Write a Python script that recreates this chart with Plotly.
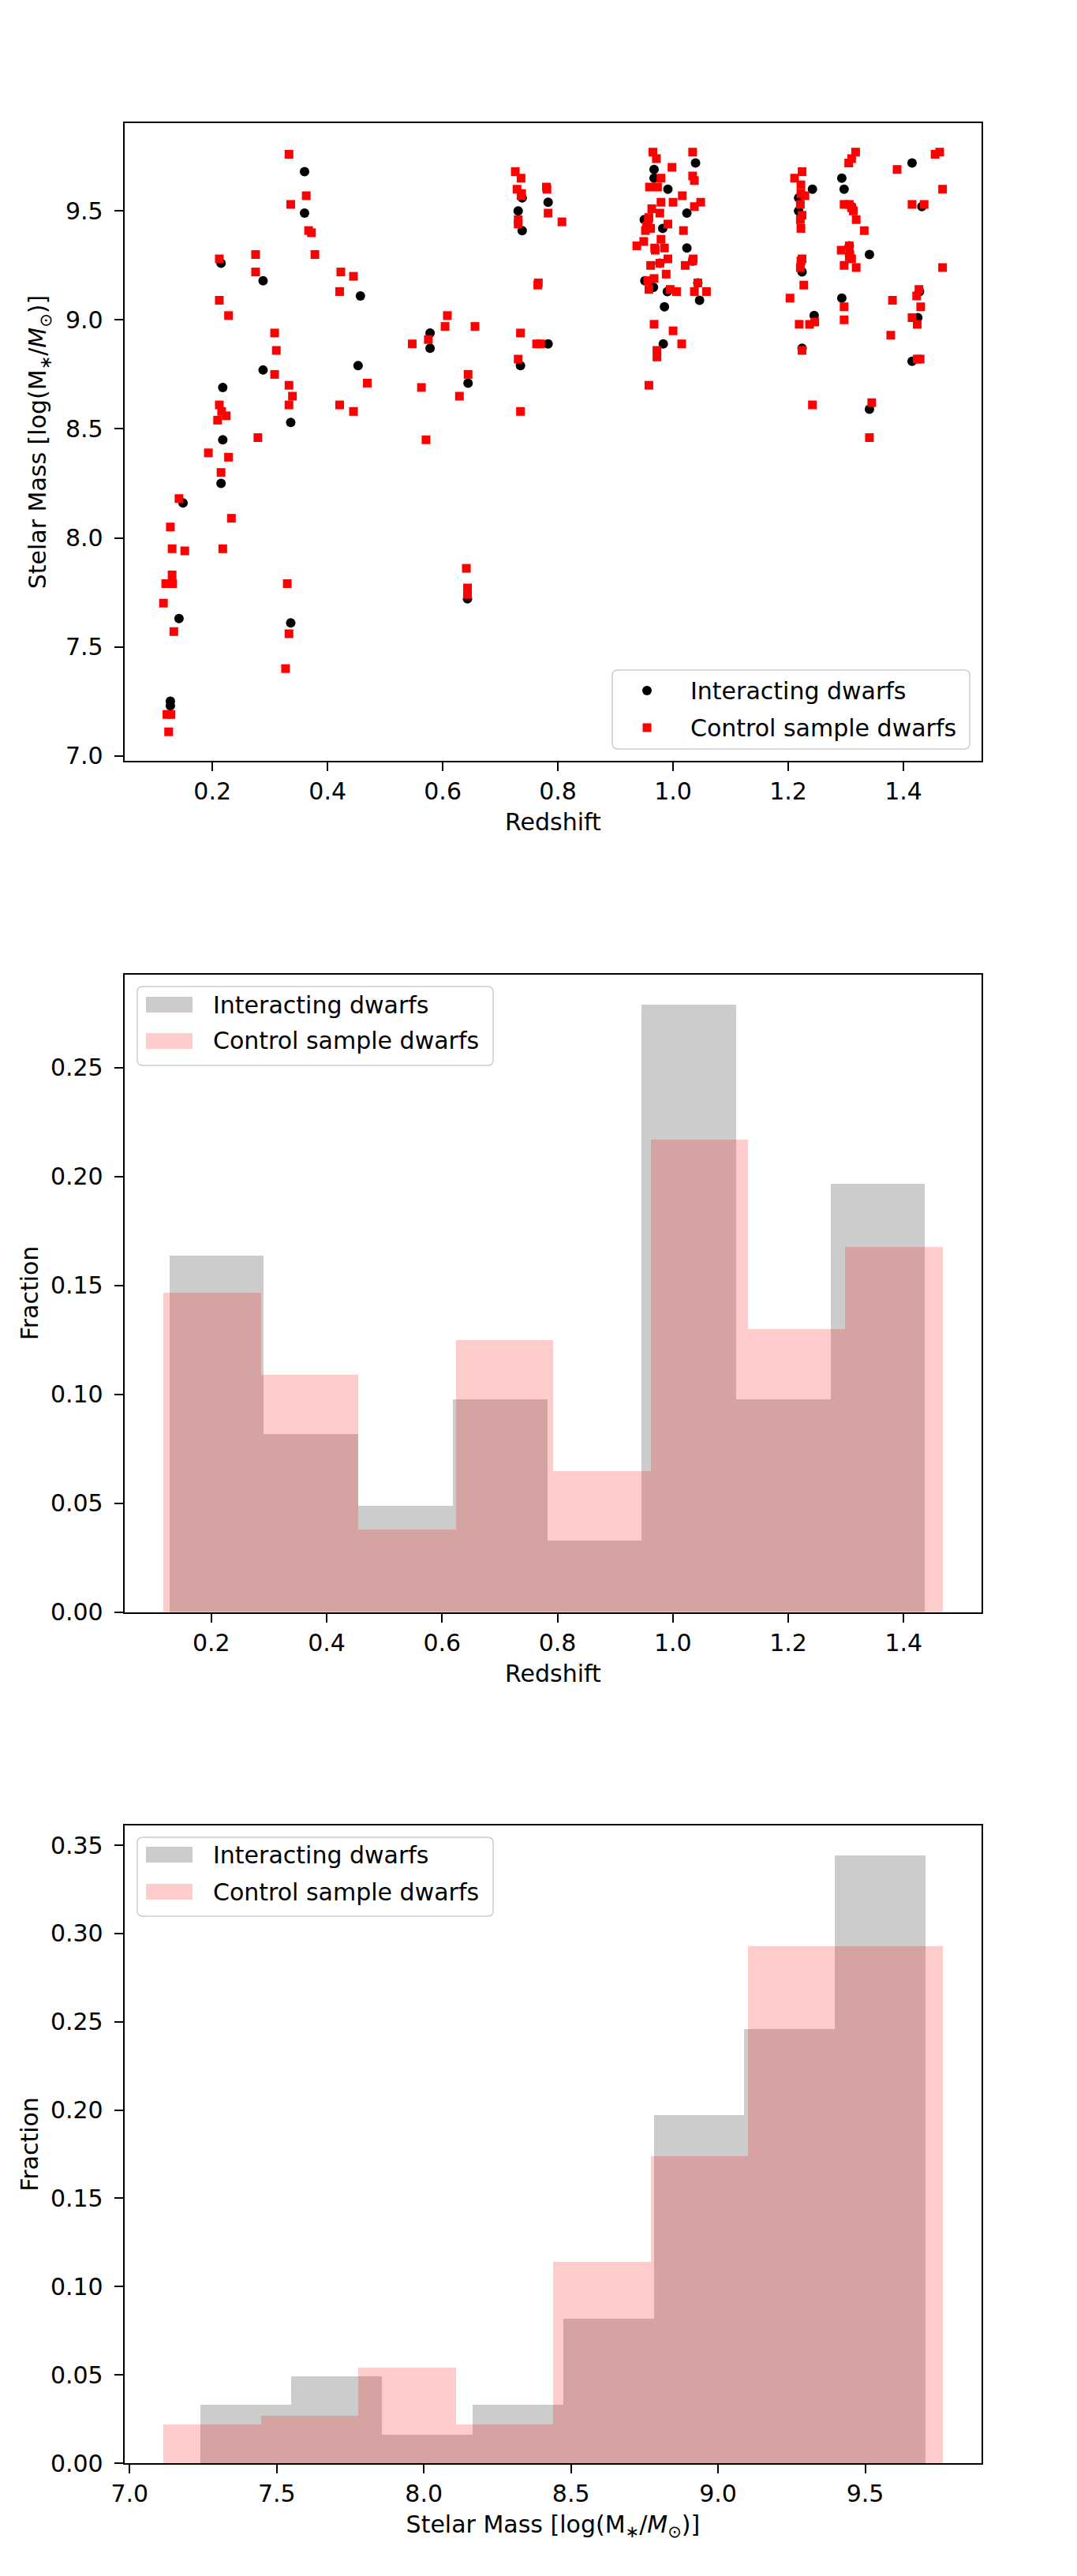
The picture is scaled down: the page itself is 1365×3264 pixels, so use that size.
import numpy as np
import plotly.graph_objects as go

W, H = 1365, 3264
OFF = 8  # browser default body margin (px) compensated in positioning

# ---------------- data: scatter (redshift, stellar mass) ----------------
int_z = [0.360, 0.360, 0.215, 0.288, 0.457, 0.578, 0.578, 0.453, 0.288, 0.218,
         0.336, 0.218, 0.215, 0.149, 0.142, 0.336, 0.127, 0.127,
         0.643, 0.644, 0.738, 0.731, 0.738, 0.783, 0.783, 0.735,
         0.967, 0.967, 1.039, 0.991, 1.024, 0.950, 0.982, 1.024, 0.951, 0.966,
         0.990, 0.985, 1.046, 0.983, 1.034, 0.977, 1.043,
         1.218, 1.218, 1.242, 1.224, 1.245, 1.224,
         1.293, 1.297, 1.341, 1.293, 1.341, 1.306, 1.310,
         1.415, 1.432, 1.425, 1.415, 1.428]
int_mass = [9.68, 9.49, 9.26, 9.18, 9.11, 8.94, 8.87, 8.79, 8.77, 8.69,
            8.53, 8.45, 8.25, 8.16, 7.63, 7.61, 7.25, 7.23,
            7.72, 8.71, 9.56, 9.50, 9.41, 9.54, 8.89, 8.79,
            9.69, 9.65, 9.72, 9.60, 9.49, 9.46, 9.42, 9.33, 9.18, 9.15,
            9.13, 9.06, 9.09, 8.89, 9.27, 9.26, 9.17,
            9.56, 9.50, 9.60, 9.22, 9.02, 8.87,
            9.65, 9.60, 9.30, 9.10, 8.59, 9.34, 9.52,
            9.72, 9.52, 9.01, 8.81, 9.13]

ctl_z = [0.333, 0.363, 0.336, 0.367, 0.372, 0.378, 0.212, 0.275, 0.275, 0.423,
         0.445, 0.421, 0.212, 0.228, 0.608, 0.604, 0.308, 0.311, 0.547, 0.575,
         0.308, 0.333, 0.339, 0.333, 0.469, 0.563, 0.421, 0.445, 0.212, 0.216,
         0.224, 0.209, 0.279, 0.571, 0.193, 0.228, 0.215, 0.142, 0.233, 0.127,
         0.130, 0.152, 0.218, 0.130, 0.119, 0.131, 0.115, 0.133, 0.330, 0.333,
         0.327, 0.121, 0.128, 0.124,
         0.726, 0.736, 0.729, 0.736, 0.731, 0.731, 0.780, 0.783, 0.807, 0.765,
         0.656, 0.735, 0.763, 0.770, 0.731, 0.644, 0.629, 0.735, 0.641, 0.643,
         0.643,
         0.965, 0.971, 1.034, 0.998, 0.979, 1.034, 1.037, 0.959, 0.973, 1.016,
         1.048, 0.979, 1.000, 1.037, 0.963, 0.977, 0.957, 0.954, 0.991, 0.961,
         0.952, 1.018, 0.979, 0.949, 0.937, 0.968, 0.985, 0.991, 0.977, 0.961,
         1.034, 1.021, 0.988, 0.956, 0.967, 0.958, 0.995, 1.006, 1.043, 1.037,
         1.058, 0.967, 1.000, 1.015, 0.972, 0.972, 0.958,
         1.224, 1.211, 1.222, 1.222, 1.229, 1.221, 1.224, 1.221, 1.222, 1.224,
         1.221, 1.227, 1.203, 1.219, 1.237, 1.246, 1.224, 1.242,
         1.317, 1.310, 1.305, 1.297, 1.306, 1.310, 1.313, 1.318, 1.332, 1.306,
         1.292, 1.306, 1.310, 1.297, 1.318, 1.297, 1.297, 1.345, 1.341,
         1.389, 1.455, 1.463, 1.468, 1.415, 1.436, 1.468, 1.427, 1.423, 1.430,
         1.381, 1.415, 1.424, 1.378, 1.424, 1.429,
         0.737, 0.766, 0.781, 0.955, 0.958, 0.969, 1.035, 1.222, 1.307]
ctl_mass = [9.76, 9.57, 9.53, 9.41, 9.40, 9.30, 9.28, 9.30, 9.22, 9.22,
            9.20, 9.13, 9.09, 9.02, 9.02, 8.97, 8.94, 8.86, 8.89, 8.91,
            8.75, 8.70, 8.65, 8.61, 8.71, 8.69, 8.61, 8.58, 8.61, 8.58,
            8.56, 8.54, 8.46, 8.45, 8.39, 8.37, 8.30, 8.18, 8.09, 8.05,
            7.95, 7.94, 7.95, 7.83, 7.79, 7.79, 7.70, 7.57, 7.79, 7.56,
            7.40, 7.19, 7.19, 7.11,
            9.68, 9.65, 9.60, 9.57, 9.46, 9.44, 9.61, 9.49, 9.45, 9.16,
            8.97, 8.94, 8.89, 8.89, 8.82, 8.75, 8.65, 8.58, 7.86, 7.77,
            7.74,
            9.77, 9.74, 9.77, 9.70, 9.65, 9.66, 9.64, 9.61, 9.61, 9.57,
            9.54, 9.54, 9.54, 9.52, 9.51, 9.49, 9.46, 9.43, 9.44, 9.42,
            9.41, 9.41, 9.37, 9.36, 9.34, 9.33, 9.33, 9.28, 9.26, 9.25,
            9.27, 9.25, 9.21, 9.18, 9.19, 9.14, 9.14, 9.13, 9.17, 9.13,
            9.13, 8.98, 8.95, 8.89, 8.86, 8.83, 8.70,
            9.68, 9.65, 9.62, 9.58, 9.57, 9.53, 9.48, 9.46, 9.42, 9.28,
            9.24, 9.16, 9.10, 8.98, 8.98, 8.99, 8.86, 8.61,
            9.77, 9.74, 9.72, 9.53, 9.53, 9.515, 9.50, 9.46, 9.41, 9.34,
            9.32, 9.29, 9.28, 9.25, 9.24, 9.06, 9.00, 8.62, 8.46,
            9.69, 9.76, 9.77, 9.60, 9.53, 9.53, 9.24, 9.14, 9.11, 9.06,
            9.09, 9.01, 8.98, 8.93, 8.82, 8.82,
            9.58, 9.17, 9.60, 9.42, 9.47, 9.32, 9.28, 9.27, 9.30]

# ---------------- data: histograms (fractions per bin) ----------------
z_int_frac = [0.164, 0.082, 0.049, 0.098, 0.033, 0.279, 0.098, 0.197]
z_int_start, z_int_width = 0.127, 0.1637
z_ctl_frac = [0.147, 0.109, 0.038, 0.125, 0.065, 0.217, 0.130, 0.168]
z_ctl_start, z_ctl_width = 0.117, 0.1688

m_int_frac = [0.033, 0.049, 0.016, 0.033, 0.082, 0.197, 0.246, 0.344]
m_int_start, m_int_width = 7.241, 0.308
m_ctl_frac = [0.022, 0.027, 0.054, 0.022, 0.114, 0.174, 0.293, 0.293]
m_ctl_start, m_ctl_width = 7.115, 0.331

series_names = ["Interacting dwarfs", "Control sample dwarfs"]

# ---------------- styling ----------------
FONT = "DejaVu Sans"
FS = 30
GRAY = "rgba(128,128,128,0.4)"
PINK = "rgba(255,0,0,0.2)"
MASS_LABEL = "Stelar Mass [log(M<sub>∗</sub>/<i>M</i><sub>⊙</sub>)]"


def centers(start, width, n):
    return [start + width * (i + 0.5) for i in range(n)]


def pad_range(lo, hi, frac=0.05):
    p = (hi - lo) * frac
    return [lo - p, hi + p]


def PX(px):
    return (px - OFF) / W


def PY(py):
    return 1 - (py - OFF) / H


fig = go.Figure()

# panel 1: scatter
fig.add_trace(go.Scatter(x=int_z, y=int_mass, mode="markers", name=series_names[0],
                         marker=dict(symbol="circle", size=12, color="black", line=dict(width=0)),
                         xaxis="x", yaxis="y", showlegend=False))
fig.add_trace(go.Scatter(x=ctl_z, y=ctl_mass, mode="markers", name=series_names[1],
                         marker=dict(symbol="square", size=11, color="red", line=dict(width=0)),
                         xaxis="x", yaxis="y", showlegend=False))

# panel 2: redshift histogram
n = len(z_int_frac)
fig.add_trace(go.Bar(x=centers(z_int_start, z_int_width, n), y=z_int_frac, width=z_int_width,
                     name=series_names[0], marker=dict(color=GRAY, line=dict(width=0)),
                     xaxis="x2", yaxis="y2", showlegend=False))
fig.add_trace(go.Bar(x=centers(z_ctl_start, z_ctl_width, n), y=z_ctl_frac, width=z_ctl_width,
                     name=series_names[1], marker=dict(color=PINK, line=dict(width=0)),
                     xaxis="x2", yaxis="y2", showlegend=False))

# panel 3: mass histogram
fig.add_trace(go.Bar(x=centers(m_int_start, m_int_width, n), y=m_int_frac, width=m_int_width,
                     name=series_names[0], marker=dict(color=GRAY, line=dict(width=0)),
                     xaxis="x3", yaxis="y3", showlegend=False))
fig.add_trace(go.Bar(x=centers(m_ctl_start, m_ctl_width, n), y=m_ctl_frac, width=m_ctl_width,
                     name=series_names[1], marker=dict(color=PINK, line=dict(width=0)),
                     xaxis="x3", yaxis="y3", showlegend=False))

# ranges (matplotlib-like 5% margins)
zx = pad_range(min(int_z + ctl_z), max(int_z + ctl_z))
my = pad_range(min(int_mass + ctl_mass), max(int_mass + ctl_mass))
zh_lo = min(z_int_start, z_ctl_start)
zh_hi = max(z_int_start + n * z_int_width, z_ctl_start + n * z_ctl_width)
zhx = pad_range(zh_lo, zh_hi)
zhy = [0, 1.05 * max(z_int_frac + z_ctl_frac)]
mh_lo = min(m_int_start, m_ctl_start)
mh_hi = max(m_int_start + n * m_int_width, m_ctl_start + n * m_ctl_width)
mhx = pad_range(mh_lo, mh_hi)
mhy = [0, 1.05 * max(m_int_frac + m_ctl_frac)]

x_dom = [PX(157.8), PX(1244.0)]


def ydom(top, height=808.0):
    return [PY(top + height), PY(top)]


axis_common = dict(showline=True, linecolor="black", linewidth=2.2, mirror=True,
                   ticks="outside", ticklen=11, tickwidth=2.2, tickcolor="black",
                   showgrid=False, zeroline=False, automargin=False,
                   tickfont=dict(family=FONT, size=FS, color="black"))
yaxis_extra = dict(ticklabelstandoff=8)
title_font = dict(family=FONT, size=FS, color="black")

# ---------------- legends (matplotlib-style boxes) ----------------
shapes = []
annotations = []


def legend_box(x0, y0, x1, y1, r=7):
    xa, xb = PX(x0), PX(x1)
    yt, yb = PY(y0), PY(y1)
    rx, ry = r / W, r / H
    path = (f"M {xa + rx},{yb} L {xb - rx},{yb} Q {xb},{yb} {xb},{yb + ry} "
            f"L {xb},{yt - ry} Q {xb},{yt} {xb - rx},{yt} L {xa + rx},{yt} "
            f"Q {xa},{yt} {xa},{yt - ry} L {xa},{yb + ry} Q {xa},{yb} {xa + rx},{yb} Z")
    shapes.append(dict(type="path", xref="paper", yref="paper", path=path,
                       fillcolor="rgba(255,255,255,0.8)",
                       line=dict(color="#cccccc", width=1.5), layer="above"))


def legend_text(txt, x, y):
    annotations.append(dict(text=txt, x=PX(x), y=PY(y), xref="paper", yref="paper",
                            xanchor="left", yanchor="middle", showarrow=False,
                            font=dict(family=FONT, size=FS, color="black")))


# scatter legend (lower right)
legend_box(776, 849, 1229, 949)
rows1 = [875, 922]
shapes.append(dict(type="circle", xref="paper", yref="paper",
                   x0=PX(820 - 6), x1=PX(820 + 6), y0=PY(rows1[0] + 6), y1=PY(rows1[0] - 6),
                   fillcolor="black", line=dict(width=0), layer="above"))
shapes.append(dict(type="rect", xref="paper", yref="paper",
                   x0=PX(820 - 5.5), x1=PX(820 + 5.5), y0=PY(rows1[1] + 5.5), y1=PY(rows1[1] - 5.5),
                   fillcolor="red", line=dict(width=0), layer="above"))
legend_text(series_names[0], 873, rows1[0])
legend_text(series_names[1], 873, rows1[1])

# histogram legends (upper left)
for (top, bottom, r1, r2) in [(1250, 1350, 1273, 1319), (2328, 2428, 2350, 2397)]:
    legend_box(174, top, 625, bottom)
    for row, col, name in [(r1, GRAY, series_names[0]), (r2, PINK, series_names[1])]:
        shapes.append(dict(type="rect", xref="paper", yref="paper",
                           x0=PX(185), x1=PX(244), y0=PY(row + 10), y1=PY(row - 10),
                           fillcolor=col, line=dict(width=0), layer="above"))
        legend_text(name, 268, row)

fig.update_layout(
    width=W, height=H,
    margin=dict(l=0, r=0, t=0, b=0, autoexpand=False),
    paper_bgcolor="white", plot_bgcolor="white",
    barmode="overlay", bargap=0,
    showlegend=False,
    font=dict(family=FONT, size=FS, color="black"),
    xaxis=dict(domain=x_dom, anchor="y", range=zx, dtick=0.2, tick0=0, tickformat=".1f",
               title=dict(text="Redshift", font=title_font, standoff=12), **axis_common),
    yaxis=dict(domain=ydom(156.0), anchor="x", range=my, dtick=0.5, tick0=0, tickformat=".1f",
               title=dict(text=MASS_LABEL, font=title_font, standoff=15),
               **axis_common, **yaxis_extra),
    xaxis2=dict(domain=x_dom, anchor="y2", range=zhx, dtick=0.2, tick0=0, tickformat=".1f",
                title=dict(text="Redshift", font=title_font, standoff=12), **axis_common),
    yaxis2=dict(domain=ydom(1234.5), anchor="x2", range=zhy, dtick=0.05, tick0=0, tickformat=".2f",
                title=dict(text="Fraction", font=title_font, standoff=6),
                **axis_common, **yaxis_extra),
    xaxis3=dict(domain=x_dom, anchor="y3", range=mhx, dtick=0.5, tick0=0, tickformat=".1f",
                title=dict(text=MASS_LABEL, font=title_font, standoff=12), **axis_common),
    yaxis3=dict(domain=ydom(2313.0), anchor="x3", range=mhy, dtick=0.05, tick0=0, tickformat=".2f",
                title=dict(text="Fraction", font=title_font, standoff=6),
                **axis_common, **yaxis_extra),
    shapes=shapes,
    annotations=annotations,
)

fig.write_html("out.html")
